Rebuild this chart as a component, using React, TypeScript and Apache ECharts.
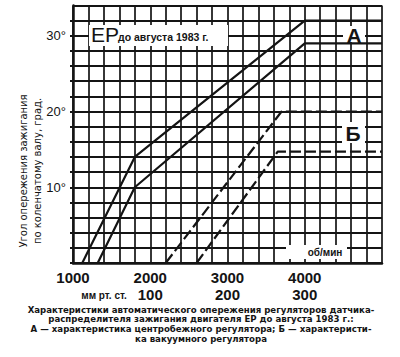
import React, { useEffect, useRef } from 'react';
import * as echarts from 'echarts';

// Axis ticks / labels
const rpmLabels = [1000, 2000, 3000, 4000];
const vacuumTicks = [2000, 3000, 4000];
const vacuumLabels = ['100', '200', '300'];
const degLabels = [10, 20, 30];

// A — centrifugal regulator (two boundary curves)
const aUpperRpm = [1120, 1800, 4000, 5000];
const aUpperDeg = [0, 14, 32, 32];
const aLowerRpm = [1320, 1800, 4000, 5000];
const aLowerDeg = [0, 10, 29, 29];

// Б — vacuum regulator (two boundary curves)
const bUpperRpm = [2200, 3700, 5000];
const bUpperDeg = [0, 20, 20];
const bLowerRpm = [2600, 3650, 5000];
const bLowerDeg = [0, 14.7, 14.7];

const captionLines = [
  'Характеристики автоматического опережения регуляторов датчика-',
  'распределителя зажигания двигателя ЕР до августа 1983 г.:',
  'А — характеристика центробежного регулятора; Б — характеристи-',
  'ка вакуумного регулятора',
];

const INK = '#141414';
const FONT = '"Liberation Sans", Arial, Helvetica, sans-serif';
const WIDE = '"DejaVu Sans", Verdana, sans-serif';

const zip = (xs: number[], ys: number[]) => xs.map((x, i) => [x, ys[i]]);

export default function App() {
  const ref = useRef<HTMLDivElement>(null);
  useEffect(() => {
    document.body.style.margin = '0';
    const chart = echarts.init(ref.current!, null, { renderer: 'svg' });
    const solid = { color: INK, width: 2.2, type: 'solid' as const };
    const dashed = { color: INK, width: 2.2, type: [11, 4] as any };
    const lineSeries = (data: number[][], lineStyle: any) => ({
      type: 'line',
      data,
      symbol: 'none',
      lineStyle,
      silent: true,
      z: 3,
    });
    chart.setOption({
      animation: false,
      backgroundColor: '#fff',
      textStyle: { fontFamily: FONT },
      grid: {
        left: 73,
        right: 18,
        top: 5.5,
        bottom: 94,
        containLabel: false,
        outerBoundsMode: 'none',
      },
      xAxis: [
        {
          type: 'value',
          min: 1000,
          max: 5000,
          interval: 200,
          axisLine: { show: true, onZero: false, lineStyle: { color: INK, width: 2.5 } },
          axisTick: { show: false },
          splitLine: { show: true, lineStyle: { color: INK, width: 1.7 } },
          axisLabel: {
            formatter: (v: number) => (rpmLabels.includes(v) ? String(v) : ''),
            color: INK,
            fontSize: 15,
            fontWeight: 'bold',
            margin: 7,
            fontFamily: FONT,
            showMaxLabel: false,
          },
        },
        {
          type: 'value',
          position: 'bottom',
          offset: 17,
          min: 1000,
          max: 5000,
          interval: 200,
          axisLine: { show: false },
          axisTick: { show: false },
          splitLine: { show: false },
          axisLabel: {
            formatter: (v: number) => {
              const i = vacuumTicks.indexOf(v);
              return i >= 0 ? vacuumLabels[i] : '';
            },
            color: INK,
            fontSize: 15,
            fontWeight: 'bold',
            margin: 7,
            fontFamily: FONT,
          },
        },
      ],
      yAxis: {
        type: 'value',
        min: 0,
        max: 34,
        interval: 2,
        axisLine: { show: true, onZero: false, lineStyle: { color: INK, width: 2.5 } },
        axisTick: { show: true, length: 3, lineStyle: { color: INK, width: 2 } },
        splitLine: { show: true, lineStyle: { color: INK, width: 2 } },
        axisLabel: {
          formatter: (v: number) => (degLabels.includes(v) ? `${v}°` : ''),
          color: INK,
          fontSize: 13,
          margin: 7,
          fontFamily: FONT,
          showMaxLabel: false,
        },
      },
      series: [
        lineSeries(zip(aUpperRpm, aUpperDeg), solid),
        lineSeries(zip(aLowerRpm, aLowerDeg), solid),
        lineSeries(zip(bUpperRpm, bUpperDeg), dashed),
        lineSeries(zip(bLowerRpm, bLowerDeg), dashed),
      ],
      graphic: [
        // "ЕР до августа 1983 г." label with white backing
        { type: 'rect', z: 10, shape: { x: 89, y: 25, width: 139, height: 21 }, style: { fill: '#fff' } },
        { type: 'text', z: 11, x: 91, y: 34, style: { text: 'ЕР', font: `21px ${FONT}`, fill: INK, textVerticalAlign: 'middle' } },
        { type: 'text', z: 11, x: 118, y: 37, style: { text: 'до августа 1983 г.', font: `bold 10.5px ${FONT}`, fill: INK, textVerticalAlign: 'middle' } },
        // A label
        { type: 'rect', z: 10, shape: { x: 343, y: 26, width: 22, height: 16 }, style: { fill: '#fff' } },
        { type: 'text', z: 11, x: 354, y: 35, style: { text: 'А', font: `bold 21px ${FONT}`, fill: INK, textAlign: 'center', textVerticalAlign: 'middle' } },
        // Б label
        { type: 'rect', z: 10, shape: { x: 342, y: 122, width: 23, height: 21 }, style: { fill: '#fff' } },
        { type: 'text', z: 11, x: 353, y: 133, style: { text: 'Б', font: `bold 21px ${FONT}`, fill: INK, textAlign: 'center', textVerticalAlign: 'middle' } },
        // об/мин
        { type: 'rect', z: 10, shape: { x: 286, y: 245, width: 61, height: 14 }, style: { fill: '#fff' } },
        { type: 'text', z: 11, x: 325, y: 252, style: { text: 'об/мин', font: `bold 10px ${FONT}`, fill: INK, textAlign: 'center', textVerticalAlign: 'middle' } },
        // vacuum unit
        { type: 'text', z: 11, x: 104, y: 295, style: { text: 'мм рт. ст.', font: `bold 10px ${FONT}`, fill: INK, textAlign: 'center', textVerticalAlign: 'middle' } },
        // y-axis title
        { type: 'text', z: 11, x: 23, y: 171, rotation: Math.PI / 2, style: { text: 'Угол опережения зажигания', font: `10px ${WIDE}`, fill: INK, textAlign: 'center', textVerticalAlign: 'middle' } },
        { type: 'text', z: 11, x: 37, y: 171, rotation: Math.PI / 2, style: { text: 'по коленчатому валу, град.', font: `10px ${WIDE}`, fill: INK, textAlign: 'center', textVerticalAlign: 'middle' } },
        // caption (one multi-line text)
        {
          type: 'text',
          z: 11,
          x: 201,
          y: 305,
          style: {
            text: captionLines.join('\n'),
            font: `bold 8.6px ${WIDE}`,
            lineHeight: 9.6,
            fill: INK,
            textAlign: 'center',
            textVerticalAlign: 'top',
          },
        },
      ],
    });
    return () => chart.dispose();
  }, []);
  return <div ref={ref} style={{ width: 400, height: 357 }} />;
}
